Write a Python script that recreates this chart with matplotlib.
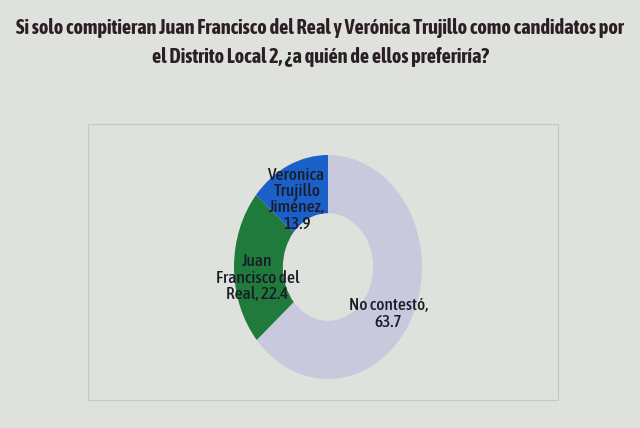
import matplotlib
matplotlib.use("Agg")
import matplotlib.pyplot as plt
from matplotlib.patches import Rectangle

# data
labels = ["No contestó,\n63.7", "Juan\nFrancisco del\nReal, 22.4", "Veronica\nTrujillo\nJiménez,\n13.9"]
values = [63.7, 22.4, 13.9]
colors = ["#c9c9de", "#1f7a3c", "#1a60c8"]

title_lines = ["Si solo compitieran Juan Francisco del Real y Verónica Trujillo como candidatos por",
               "el Distrito Local 2, ¿a quién de ellos preferiría?"]

plt.rcParams['font.family'] = ['Asap Condensed', 'Liberation Sans', 'DejaVu Sans']

W, H = 640, 428
fig = plt.figure(figsize=(W / 100, H / 100), dpi=100, facecolor="#dfe2dc")

# plot area frame
frame = Rectangle((88 / W, (H - 400) / H), (558 - 88) / W, (400 - 124) / H,
                  transform=fig.transFigure, fill=False, edgecolor="#c4c7c2", lw=0.8)
fig.patches.append(frame)

# title: fit first line to ~615 px wide
t1 = fig.text(0.5, 1 - 28 / H, title_lines[0], ha="center", va="center", fontsize=15,
              fontweight="bold", color="#2a1f25")
r = fig.canvas.get_renderer()
w = t1.get_window_extent(r).width
fs = 15 * 614 / w
t1.set_fontsize(fs)
fig.text(0.5, 1 - 57 / H, title_lines[1], ha="center", va="center", fontsize=fs,
         fontweight="bold", color="#2a1f25")

# donut: centre ~(328, 267), radii 94 px across, 112 px down
cx, cy, rx, ry = 328, 267, 94, 112
ax = fig.add_axes([(cx - rx) / W, (H - cy - ry) / H, 2 * rx / W, 2 * ry / H])
wedges, _ = ax.pie(values, colors=colors, startangle=90, counterclock=False,
                   wedgeprops=dict(width=0.52, edgecolor="none"))
ax.set_aspect("auto")
ax.set_xlim(-1, 1)
ax.set_ylim(-1, 1)
ax.axis("off")

label_pos = [(0.64, -0.42), (-0.75, -0.10), (-0.33, 0.60)]
for txt, (x, y) in zip(labels, label_pos):
    ax.text(x, y, txt, ha="center", va="center", fontsize=12.5, color="#1b1b28",
            fontweight="medium", linespacing=0.95, clip_on=False)

fig.savefig("out.png", dpi=100, facecolor=fig.get_facecolor())
